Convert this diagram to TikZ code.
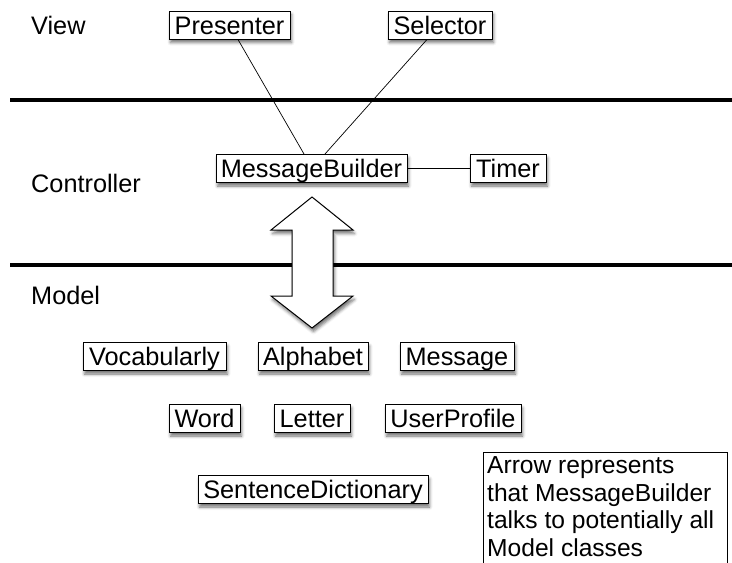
\documentclass[tikz,border=0pt]{standalone}
\usepackage{fontspec}
\setmainfont{Liberation Sans}
\usetikzlibrary{shadows.blur}
\begin{document}
\begin{tikzpicture}[x=1pt,y=-1pt,
  every node/.style={font=\fontsize{25.3}{28.5}\selectfont},
  cls/.style={draw=black, line width=1pt, fill=white, inner sep=0pt,
    minimum height=28pt, text height=18pt, text depth=0pt,
    blur shadow={shadow xshift=1.5pt, shadow yshift=-3.5pt, shadow blur radius=3pt, shadow opacity=55}},
  layer/.style={line width=4pt},
  lbl/.style={anchor=base west, inner sep=0pt},
  conn/.style={line width=0.7pt}]
\useasboundingbox (0,0) rectangle (732,563);
% layer separators
\coordinate (l1a) at (10,100); \coordinate (l1b) at (732,100);
\coordinate (l2a) at (10,265); \coordinate (l2b) at (732,265);
\draw[layer] (l1a) -- (l1b);
\draw[layer] (l2a) -- (l2b);
% layer labels
\node[lbl] (view) at (31,34) {View};
\node[lbl] (ctrl) at (31,192) {Controller};
\node[lbl] (model) at (31,304) {Model};
% view
\node[cls, minimum width=121pt] (pres) at (229.5,25) {Presenter};
\node[cls, minimum width=104pt] (sel) at (440,25) {Selector};
% controller
\node[cls, minimum width=191pt] (mb) at (311.5,168.5) {MessageBuilder};
\node[cls, minimum width=76pt] (timer) at (508,168.5) {Timer};
\draw[conn] ([xshift=8.5pt]pres.south) -- ([xshift=-7.5pt]mb.north);
\draw[conn] ([xshift=-13pt]sel.south) -- ([xshift=13.5pt]mb.north);
\draw[conn] (mb.east) -- (timer.west);
% big double arrow
\draw[line width=1pt, fill=white,
  blur shadow={shadow xshift=1.5pt, shadow yshift=-3.5pt, shadow blur radius=3pt, shadow opacity=55}]
  (312,197) -- (353,230) -- (333,230) -- (333,296) -- (353,296) -- (312,328)
  -- (271,296) -- (292,296) -- (292,230) -- (271,230) -- cycle;
% model
\node[cls, minimum width=143pt] (voc) at (154.5,356.5) {Vocabularly};
\node[cls, minimum width=110pt] (alpha) at (313,356.5) {Alphabet};
\node[cls, minimum width=114pt] (msg) at (457,356.5) {Message};
\node[cls, minimum width=71pt] (word) at (204.5,418.5) {Word};
\node[cls, minimum width=76pt] (letter) at (312,418.5) {Letter};
\node[cls, minimum width=136pt] (user) at (453,418.5) {UserProfile};
\node[cls, minimum width=230pt] (sent) at (313,489.5) {SentenceDictionary};
% note
\node[anchor=north west, inner sep=0pt, align=left,
  font=\fontsize{24.6}{27.5}\selectfont] (note) at (487,456.5)
  {Arrow represents\\that MessageBuilder\\talks to potentially all\\Model classes};
\coordinate (nbl) at (483,563); \coordinate (ntl) at (483,452);
\coordinate (ntr) at (727,452); \coordinate (nbr) at (727,563);
\draw[line width=1pt] (nbl) -- (ntl) -- (ntr) -- (nbr);
\end{tikzpicture}
\end{document}
